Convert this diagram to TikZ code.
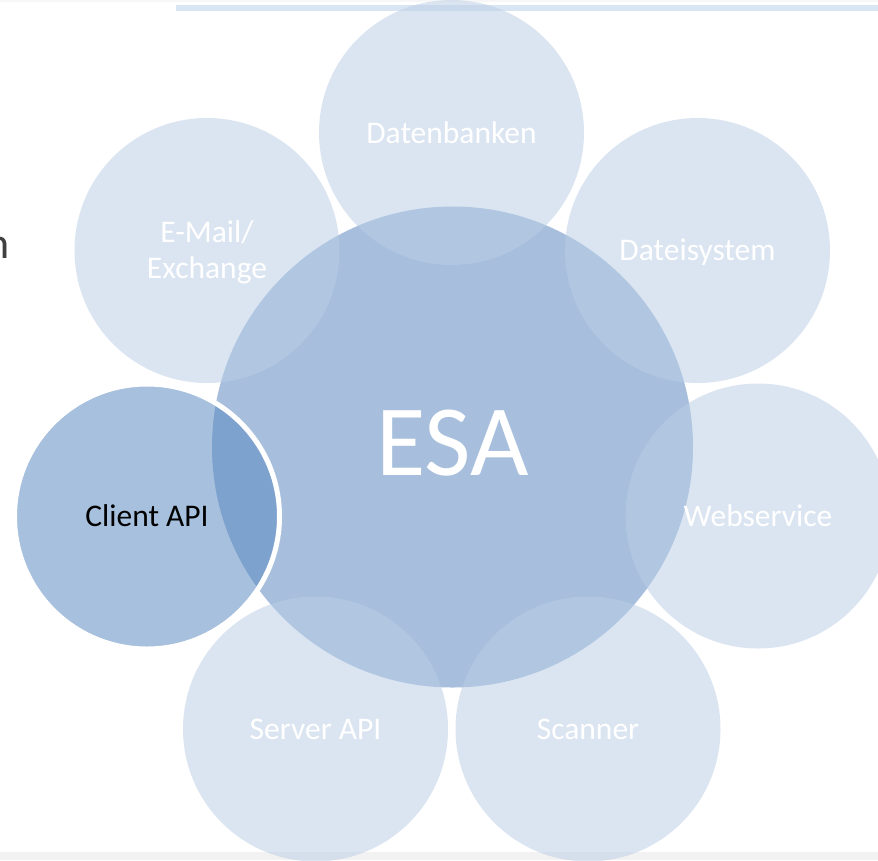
\documentclass[tikz,border=0pt]{standalone}
\usepackage{fontspec}
\setmainfont{Carlito}
\definecolor{lightc}{RGB}{185,205,229}
\definecolor{esac}{RGB}{167,191,221}
\definecolor{clientc}{RGB}{90,137,193}
\definecolor{toplinec}{RGB}{218,229,243}
\definecolor{stripc}{RGB}{242,242,242}
\definecolor{leftgray}{RGB}{64,64,64}
\begin{document}
\begin{tikzpicture}[x=1pt,y=-1pt,
  sat/.style={circle, minimum size=265pt, inner sep=0pt, fill=lightc, fill opacity=0.5},
  lbl/.style={text=white, font=\fontsize{31.5}{36}\selectfont, anchor=base, inner sep=0pt},
]
\useasboundingbox (0,0) rectangle (878,860);
\clip (0,0) rectangle (878,860);
\fill[white] (0,0) rectangle (878,860);
\fill[stripc!60] (0,0) rectangle (878,1.5);
\fill[stripc] (0,852) rectangle (878,860);
\fill[toplinec] (176,4.7) rectangle (878,10.7);
\node[anchor=base east, inner sep=0pt, text=leftgray, font=\fontsize{44}{50}\selectfont] (cut) at (9.5,258) {n};
% central circle
\node[circle, minimum size=481pt, inner sep=0pt, fill=esac] (esa) at (452.5,447) {};
% satellites
\node[sat] (db) at (451.5,132.5) {};
\node[sat] (mail) at (207,250.5) {};
\node[sat] (fs) at (697.5,250.5) {};
\node[sat] (web) at (758,516) {};
\node[sat] (scan) at (588,729) {};
\node[sat] (srv) at (315.5,729) {};
\node[circle, minimum size=265pt, inner sep=0pt, fill=clientc, fill opacity=0.534, draw=white, draw opacity=1, line width=5pt] (client) at (147,516.5) {};
% labels
\node[lbl, font=\fontsize{101}{110}\selectfont] (tesa) at (452.5,475) {ESA};
\node[lbl] (tdb) at (451.5,143) {Datenbanken};
\node[lbl] (tmail1) at (207,242) {E-Mail/};
\node[lbl] (tmail2) at (207,278) {Exchange};
\node[lbl] (tfs) at (697.5,260) {Dateisystem};
\node[lbl] (tweb) at (758,526) {Webservice};
\node[lbl] (tscan) at (588,739) {Scanner};
\node[lbl] (tsrv) at (315.5,739) {Server API};
\node[lbl, text=black] (tclient) at (147,526) {Client API};
\end{tikzpicture}
\end{document}
